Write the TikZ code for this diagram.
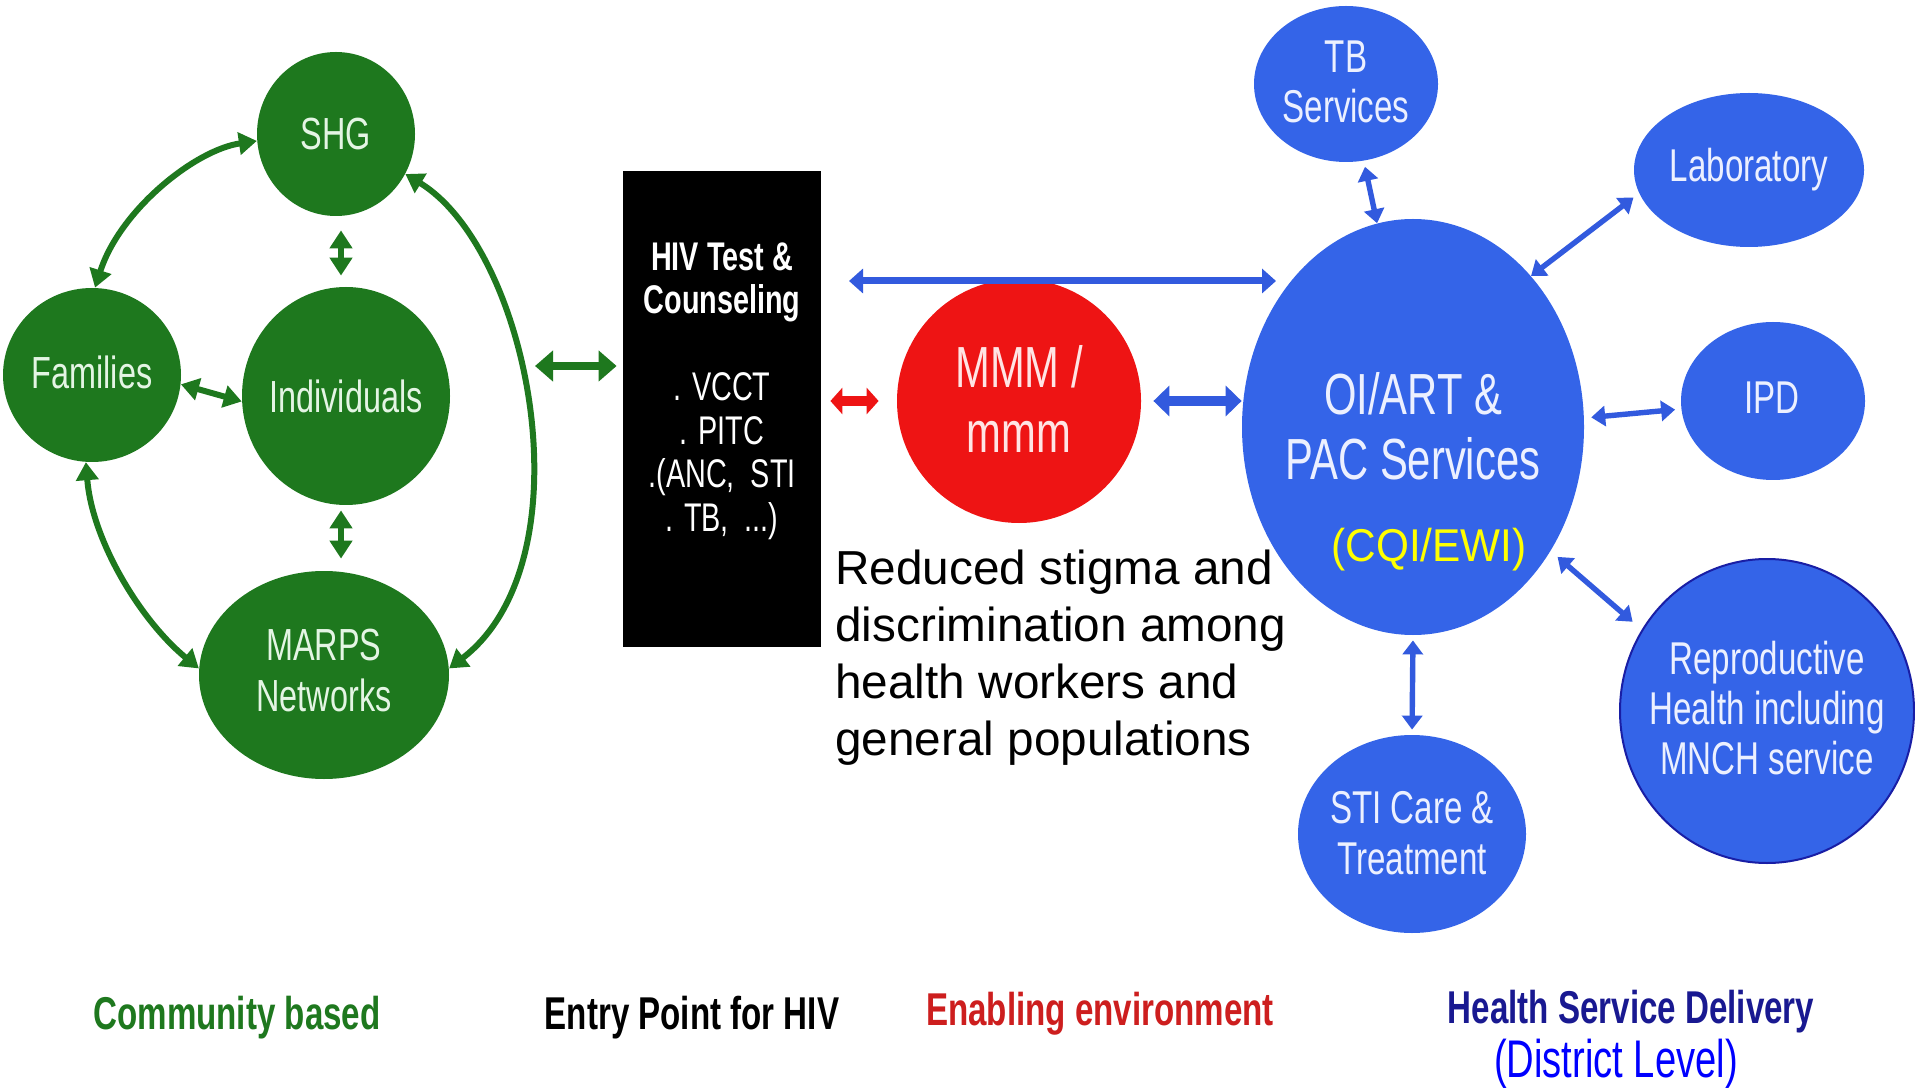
\documentclass[tikz,border=0pt]{standalone}
\usepackage{fontspec}
\setmainfont{Liberation Sans}
\newfontfamily\narrowf[FakeStretch=0.72]{Liberation Sans}
\newfontfamily\semif[FakeStretch=0.92]{Liberation Sans}
\usetikzlibrary{shapes.geometric,arrows.meta,calc}
\definecolor{grn}{RGB}{30,120,30}
\definecolor{gtxtc}{RGB}{228,245,228}
\definecolor{bcol}{RGB}{52,100,232}
\definecolor{btxtc}{RGB}{236,240,255}
\definecolor{barrc}{RGB}{50,90,222}
\definecolor{navyc}{RGB}{25,30,165}
\definecolor{redc}{RGB}{238,20,20}
\definecolor{mmmtxt}{RGB}{255,228,228}
\definecolor{enabc}{RGB}{205,30,30}
\definecolor{hsdc}{RGB}{25,25,145}
\definecolor{distc}{RGB}{0,0,255}
\definecolor{cqic}{RGB}{255,255,0}
\begin{document}
\begin{tikzpicture}[x=0.5pt,y=-0.5pt,
  gcirc/.style={ellipse, fill=grn, inner sep=0pt},
  bcirc/.style={ellipse, fill=bcol, inner sep=0pt},
  gtxt/.style={text=gtxtc, font=\narrowf\fontsize{22.5}{25.5}\selectfont, align=center, inner sep=0pt},
  btxt/.style={text=btxtc, font=\narrowf\fontsize{23}{25.2}\selectfont, align=center, inner sep=0pt},
  bigtxt/.style={font=\narrowf\fontsize{29}{32.5}\selectfont, align=center, inner sep=0pt},
  garr/.style={draw=grn, line width=3pt, {Triangle[length=9pt,width=11pt]}-{Triangle[length=9pt,width=11pt]}},
  bigg/.style={draw=grn, line width=4.3pt, {Triangle[length=9pt,width=15pt]}-{Triangle[length=9pt,width=15pt]}},
  rarr/.style={draw=redc, line width=5pt, {Triangle[length=6pt,width=13pt]}-{Triangle[length=6pt,width=13pt]}},
  bbig/.style={draw=barrc, line width=5pt, {Triangle[length=8pt,width=15pt]}-{Triangle[length=8pt,width=15pt]}},
  blong/.style={draw=barrc, line width=3.5pt, {Triangle[length=7pt,width=12pt]}-{Triangle[length=7pt,width=12pt]}},
  barr/.style={draw=barrc, line width=2.7pt, {Triangle[length=7pt,width=10pt]}-{Triangle[length=7pt,width=10pt]}},
  lbl/.style={font=\narrowf\bfseries\fontsize{23}{26}\selectfont, inner sep=0pt}
]
\fill[white] (0,0) rectangle (1915,1090);
\useasboundingbox (0,0) rectangle (1915,1090);

% community
\node[gcirc, minimum width=79pt, minimum height=82pt] (shg) at (336,134) {};
\node[gcirc, minimum width=89pt, minimum height=87pt] (fam) at (92,375) {};
\node[gcirc, minimum width=104pt, minimum height=109pt] (ind) at (346,396) {};
\node[gcirc, minimum width=125pt, minimum height=104pt] (marps) at (324,675) {};
\node[gtxt] (shg-t) at (shg) {SHG};
\node[gtxt] (fam-t) at (92,372) {Families};
\node[gtxt] (ind-t) at (ind) {Individuals};
\node[gtxt] (marps-t) at (324,671) {MARPS\\Networks};

\draw[garr] (shg.185) .. controls (195,150) and (120,210) .. (fam.88);
\draw[garr] (fam.-94) .. controls (92,540) and (140,620) .. (marps.177);
\draw[garr] (shg.-30) .. controls (530,250) and (590,560) .. (marps.3);
\draw[garr, shorten <=7pt, shorten >=5.5pt] ([xshift=-2.5pt]ind.north |- shg.south) -- ([xshift=-2.5pt]ind.north);
\draw[garr, shorten <=2.5pt, shorten >=6pt] ([xshift=-2.5pt]ind.south) -- ([xshift=-2.5pt]ind.south |- marps.north);
\draw[garr] (fam.-6) -- (ind.183);

% entry box
\node[fill=black, minimum width=99pt, minimum height=238pt, inner sep=0pt] (hiv) at (722,409) {};
\node[text=white, align=center, inner sep=0pt, font=\narrowf\fontsize{20}{21.75}\selectfont] (hiv-t) at (722,391)
  {\textbf{HIV Test \&}\\\textbf{Counseling}\\[21.75pt] . VCCT\\. PITC\\.(ANC,~ STI\\. TB,~ ...)};

\coordinate (gL) at (535,366);
\draw[bigg, shorten >=3pt] (gL) -- (gL -| hiv.west);

% enabling
\node[ellipse, fill=redc, minimum width=122pt, minimum height=122pt, inner sep=0pt] (mmm) at (1019,401) {};
\node[bigtxt, text=mmmtxt] (mmm-t) at (1019,399) {MMM /\\mmm};
\draw[rarr, shorten <=4.5pt, shorten >=9pt] (mmm.west -| hiv.east) -- (mmm.west);

% health services
\node[bcirc, minimum width=171pt, minimum height=208pt] (oi) at (1413,427) {};
\node[bcirc, minimum width=92pt, minimum height=78pt] (tb) at (1346,84) {};
\node[bcirc, minimum width=115pt, minimum height=77pt] (lab) at (1749,170) {};
\node[bcirc, minimum width=92pt, minimum height=79pt] (ipd) at (1773,401) {};
\node[bcirc, draw=navyc, line width=1pt, minimum width=147pt, minimum height=152pt] (repro) at (1767,711) {};
\node[bcirc, minimum width=114pt, minimum height=99pt] (sti) at (1412,834) {};

\node[bigtxt, text=btxtc] (oi-t) at (1413,426) {OI/ART \&\\PAC Services};
\node[inner sep=0pt, text=cqic, font=\semif\fontsize{23}{26}\selectfont] (cqi) at (1429,550) {(CQI/EWI)};
\node[btxt] (tb-t) at (1346,82) {TB\\Services};
\node[btxt] (lab-t) at (1749,170) {Laboratory};
\node[btxt] (ipd-t) at (1772,398) {IPD};
\node[btxt] (repro-t) at (1767,708) {Reproductive\\Health including\\MNCH service};
\node[btxt] (sti-t) at (1412,833) {STI Care \&\\Treatment};

\coordinate (lA) at (849,281);
\coordinate (lB) at (1276,281);
\draw[blong] (lA) -- (lB);
\draw[bbig, shorten <=6pt] (mmm.east) -- (mmm.east -| oi.west);

\draw[barr, shorten <=3pt] (tb.-77) -- (oi.100);
\draw[barr, shorten <=3.5pt] (lab.192) -- (oi.52);
\draw[barr, shorten <=3pt, shorten >=3.5pt] (ipd.185) -- (oi.3);
\draw[barr, shorten <=6pt, shorten >=4.5pt] (repro.147) -- (oi.-42);
\draw[barr, shorten <=2.5pt, shorten >=2.5pt] (oi.south) -- (sti.north);

% texts
\node[anchor=west, align=left, inner sep=0pt, font=\fontsize{23.85}{28.5}\selectfont] (reduced) at (835,658)
  {Reduced stigma and\\discrimination among\\health workers and\\general populations};

\node[lbl, text=grn] (l1) at (237,1018) {Community based};
\node[lbl, text=black] (l2) at (692,1018) {Entry Point for HIV};
\node[lbl, text=enabc] (l3) at (1100,1014) {Enabling environment};
\node[lbl, text=hsdc] (l4) at (1631,1012) {Health Service Delivery};
\node[inner sep=0pt, text=distc, font=\narrowf\fontsize{26.5}{29}\selectfont] (l5) at (1616,1064) {(District Level)};
\end{tikzpicture}
\end{document}
